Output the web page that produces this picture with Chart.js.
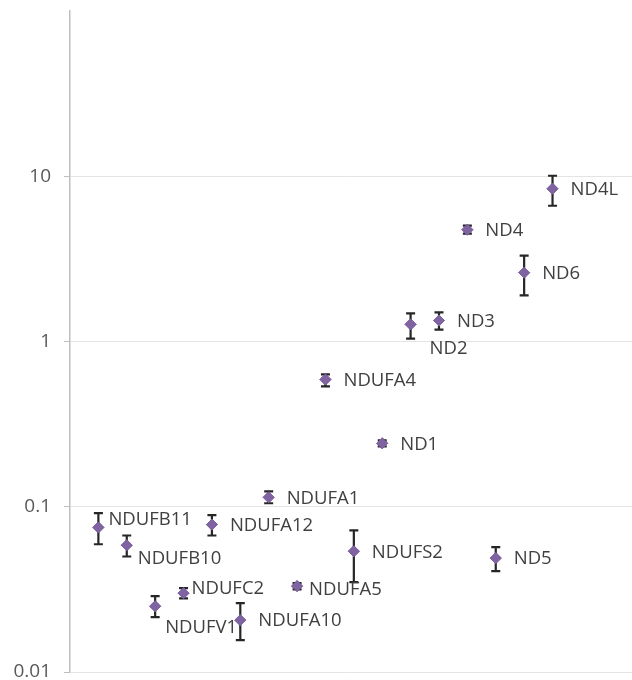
<!DOCTYPE html>
<html>
<head>
<meta charset="utf-8">
<script src="https://cdn.jsdelivr.net/npm/chart.js@4.4.1/dist/chart.umd.min.js"></script>
<style>
html,body{margin:0;padding:0;background:#fff;overflow:hidden;}
#wrap{width:632px;height:680px;}
canvas{display:block;}
</style>
</head>
<body>
<div id="wrap"><canvas id="c" width="632" height="680"></canvas></div>
<script>
const genes = ["NDUFB11","NDUFB10","NDUFV1","NDUFC2","NDUFA12","NDUFA10","NDUFA1","NDUFA5","NDUFA4","NDUFS2","ND1","ND2","ND3","ND4","ND5","ND6","ND4L"];
const values = [0.075,0.0585,0.025,0.030,0.078,0.0206,0.114,0.0331,0.589,0.0538,0.242,1.27,1.34,4.75,0.0489,2.61,8.4];
const errHigh = [0.0914,0.067,0.0288,0.0322,0.089,0.0261,0.124,0.0345,0.632,0.072,0.252,1.48,1.50,5.03,0.0569,3.31,10.07];
const errLow  = [0.0593,0.050,0.0215,0.0279,0.067,0.0156,0.105,0.0316,0.535,0.035,0.232,1.04,1.18,4.49,0.0408,1.90,6.63];
const yTicks = [0.01,0.1,1,10];

const labelOffsets = {
  NDUFB11:[10,-8], NDUFB10:[11,14], NDUFV1:[10,21], NDUFC2:[8,-4], NDUFA5:[12,4], ND2:[19,24]
};

const points = values.map((v,i)=>({x:i+1,y:v}));

const errorBars = {
  id:'errorBars',
  afterDatasetsDraw(chart){
    const ctx = chart.ctx, xs = chart.scales.x, ys = chart.scales.y;
    ctx.save();
    ctx.strokeStyle = '#262626';
    ctx.lineWidth = 2.2;
    values.forEach((v,i)=>{
      const x = xs.getPixelForValue(i+1);
      const yh = ys.getPixelForValue(errHigh[i]);
      const yl = ys.getPixelForValue(errLow[i]);
      ctx.beginPath();
      ctx.moveTo(x,yh); ctx.lineTo(x,yl);
      ctx.moveTo(x-4.5,yh); ctx.lineTo(x+4.5,yh);
      ctx.moveTo(x-4.5,yl); ctx.lineTo(x+4.5,yl);
      ctx.stroke();
    });
    const meta = chart.getDatasetMeta(0);
    meta.data.forEach(el=>el.draw(ctx));
    ctx.font = '18.5px "Open Sans", "DejaVu Sans", sans-serif';
    ctx.fillStyle = '#404040';
    ctx.textBaseline = 'middle';
    ctx.textAlign = 'left';
    genes.forEach((g,i)=>{
      const x = xs.getPixelForValue(i+1);
      const y = ys.getPixelForValue(values[i]);
      const off = labelOffsets[g] || [18,1];
      ctx.fillText(g, x+off[0], y+off[1]);
    });
    ctx.restore();
  }
};

new Chart(document.getElementById('c'),{
  type:'scatter',
  data:{datasets:[{
    data:points,
    pointStyle:'rectRot',
    pointRadius:5.5,
    pointHoverRadius:5.5,
    backgroundColor:'#8064A2',
    borderColor:'#8064A2',
    borderWidth:1,
    clip:false
  }]},
  options:{
    responsive:false,
    animation:false,
    events:[],
    layout:{autoPadding:false,padding:{top:11,bottom:8,right:0,left:0}},
    plugins:{legend:{display:false},tooltip:{enabled:false}},
    scales:{
      x:{type:'linear',display:false,min:0,max:19.8},
      y:{
        type:'logarithmic',min:0.01,max:100,
        afterBuildTicks(scale){ scale.ticks = yTicks.map(v=>({value:v})); },
        afterFit(scale){ scale.width = 70; scale.paddingTop = 0; scale.paddingBottom = 0; },
        ticks:{
          callback:(v)=>String(v),
          font:{family:'"Open Sans", "DejaVu Sans", sans-serif',size:19},
          color:'#595959',
          padding:13,
          autoSkip:false
        },
        grid:{color:'#e4e4e4',lineWidth:1,tickLength:6,tickColor:'#bfbfbf'},
        border:{color:'#bfbfbf',width:1.5}
      }
    }
  },
  plugins:[errorBars]
});
</script>
</body>
</html>
